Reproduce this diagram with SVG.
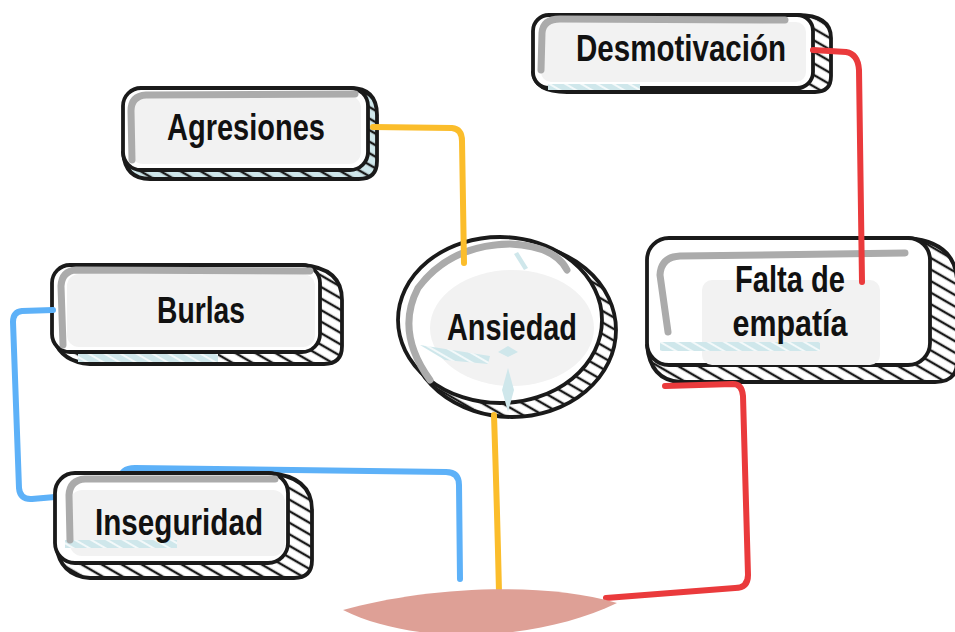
<svg xmlns="http://www.w3.org/2000/svg" width="955" height="632" viewBox="0 0 955 632">
<defs>
<pattern id="hatch" width="10" height="10" patternUnits="userSpaceOnUse" patternTransform="rotate(-60)">
<rect width="10" height="10" fill="#ffffff"/>
<line x1="2" y1="0" x2="2" y2="10" stroke="#1a1a1a" stroke-width="2.4"/>
</pattern>
<pattern id="hatchblue" width="10" height="10" patternUnits="userSpaceOnUse" patternTransform="rotate(-60)">
<rect width="10" height="10" fill="#cfe7eb"/>
<line x1="2" y1="0" x2="2" y2="10" stroke="#1a1a1a" stroke-width="2.4"/>
</pattern>
<pattern id="lblue" width="8" height="8" patternUnits="userSpaceOnUse" patternTransform="rotate(-60)">
<rect width="8" height="8" fill="#cfe7eb"/>
<line x1="2" y1="0" x2="2" y2="8" stroke="#ffffff" stroke-width="1.5"/>
</pattern>
</defs>
<style>
.ext{fill:url(#hatch);stroke:#1a1a1a;stroke-width:3.8;stroke-linejoin:round}
.extb{fill:url(#hatchblue);stroke:#1a1a1a;stroke-width:3.8;stroke-linejoin:round}
.face{fill:#ffffff;stroke:#1a1a1a;stroke-width:3.8}
.inner{fill:#f2f2f2}
.gray{fill:none;stroke:#ababab;stroke-width:7;stroke-linecap:round;stroke-linejoin:round}
.strip{fill:url(#lblue)}
.dia{fill:#cfe7eb}
.lbl{font-family:"Liberation Sans",Arial,sans-serif;font-weight:700;font-size:36px;fill:#111111;text-anchor:middle}
.c{fill:none;stroke-width:6;stroke-linecap:round;stroke-linejoin:round}
.y{stroke:#fbbd2b}
.r{stroke:#ea3a3c}
.b{stroke:#5db1f8}
</style>

<g id="n-desmotivacion">
<path class="ext" d="M797,15 Q831,15 831,38 L831,76 Q831,92 815,92 L567,92 Q535,92 533,72 Z"/>
<rect class="face" x="533" y="15" width="280" height="73" rx="16"/>
<rect class="inner" x="541" y="22" width="265" height="60" rx="10"/>
<rect class="strip" x="548" y="84" width="92" height="6"/>
<path class="gray" d="M785,20 L560,19 Q543,19 542,33 L541,70"/>
<text class="lbl" x="681" y="61" textLength="210" lengthAdjust="spacingAndGlyphs">Desmotivación</text>
</g>

<g id="n-agresiones">
<path class="extb" d="M350,88 Q377,88 377,115 L377,161 Q377,179 359,179 L150,179 Q125,179 123,152 Z"/>
<rect class="face" x="123" y="88" width="245" height="82" rx="18"/>
<rect class="inner" x="131" y="96" width="230" height="68" rx="12"/>
<path class="gray" d="M355,94 L146,95 Q131,96 131,111 L132,160"/>
<text class="lbl" x="246" y="140" textLength="158" lengthAdjust="spacingAndGlyphs">Agresiones</text>
</g>

<g id="n-burlas">
<path class="ext" d="M302,265 Q342,268 342,300 L342,346 Q342,364 324,364 L90,364 Q62,362 54,340 Z"/>
<rect class="strip" x="78" y="352" width="140" height="10"/>
<rect class="face" x="52" y="265" width="268" height="87" rx="18"/>
<rect class="inner" x="67" y="274" width="248" height="73" rx="12"/>
<path class="gray" d="M310,271 L76,270 Q62,271 61,286 L63,345"/>
<text class="lbl" x="201" y="323" textLength="88" lengthAdjust="spacingAndGlyphs">Burlas</text>
</g>

<g id="n-ansiedad">
<ellipse class="ext" cx="512" cy="330" rx="104" ry="87"/>
<ellipse class="face" cx="500" cy="320" rx="102" ry="83"/>
<ellipse class="inner" cx="512" cy="328" rx="82" ry="58"/>
<path class="gray" d="M430,380 Q395,332 418,288 Q450,245 510,244 Q555,246 567,270"/>
<path class="dia" d="M508,368 L514,390 L508,412 L502,390 Z"/>
<path class="dia" d="M508,346 L518,352 L508,357 L498,352 Z"/>
<path class="dia" d="M518,252 L528,268 L524,270 L514,254 Z"/>
<path class="strip" d="M420,345 L490,356 L488,364 L445,360 Z"/>
<text class="lbl" x="512" y="340" textLength="130" lengthAdjust="spacingAndGlyphs">Ansiedad</text>
</g>

<g id="n-falta">
<path class="ext" d="M908,238 Q955,242 957,280 L957,362 Q957,382 935,382 L680,382 Q650,380 647,345 Z"/>
<rect class="face" x="647" y="238" width="283" height="127" rx="22"/>
<rect class="inner" x="702" y="280" width="178" height="85" rx="10"/>
<rect class="strip" x="660" y="342" width="160" height="9"/>
<path class="gray" d="M905,253 L680,256 Q661,257 660,275 L668,332"/>
<text class="lbl" x="790" y="292" textLength="110" lengthAdjust="spacingAndGlyphs">Falta de</text>
<text class="lbl" x="790" y="336" textLength="115" lengthAdjust="spacingAndGlyphs">empatía</text>
</g>

<g id="connectors">
<path class="c y" d="M373,127 L452,128 Q462,129 462,141 L464,263"/>
<path class="c y" d="M494,415 Q497,505 499,592"/>
<path class="c r" d="M813,50 L846,52 Q858,54 859,70 L862,282"/>
<path class="c r" d="M665,386 L733,384 Q742,384 743,396 L748,575 Q748,588 735,588 L606,598"/>
<path class="c b" d="M53,310 L22,311 Q13,312 13,322 L19,488 Q20,500 32,499 L55,497"/>
<path class="c b" d="M121,567 L120,480 Q121,468 135,468 L446,472 Q459,472 459,485 L460,579"/>
</g>

<g id="n-inseguridad">
<path class="ext" d="M268,473 Q312,476 312,510 L312,560 Q312,578 294,578 L90,578 Q60,576 56,545 Z"/>
<rect class="face" x="55" y="473" width="233" height="90" rx="20"/>
<rect class="inner" x="70" y="490" width="215" height="66" rx="12"/>
<rect class="strip" x="65" y="540" width="112" height="8"/>
<path class="gray" d="M275,479 L85,479 Q70,480 69,495 L70,540"/>
<text class="lbl" x="179" y="535" textLength="168" lengthAdjust="spacingAndGlyphs">Inseguridad</text>
</g>

<path id="base" d="M343,610 C420,588 540,580 617,603 C540,640 420,648 343,610 Z" fill="#dea096"/>
</svg>
